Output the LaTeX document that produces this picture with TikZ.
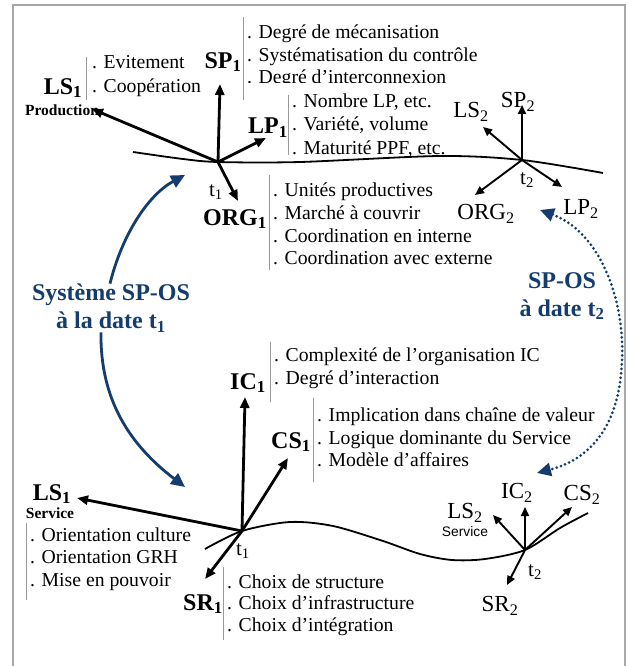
\documentclass[tikz,border=0pt]{standalone}
\usepackage{fontspec}
\setmainfont{Liberation Serif}
\newfontfamily\sansf{Liberation Sans}
\usetikzlibrary{arrows.meta}
\definecolor{navy}{RGB}{20,60,110}
\begin{document}
\begin{tikzpicture}[x=1pt,y=-1pt,
 itm/.style={font=\fontsize{19.7}{22.5}\selectfont, anchor=base west, inner sep=0pt},
 blab/.style={font=\fontsize{24}{26}\selectfont\bfseries, inner sep=0pt},
 lab/.style={font=\fontsize{23}{25}\selectfont, inner sep=0pt},
 smallb/.style={font=\fontsize{15.5}{17}\selectfont\bfseries, inner sep=0pt},
 smalls/.style={font=\fontsize{13.8}{15}\selectfont\sansf, inner sep=0pt},
 tlab/.style={font=\fontsize{21}{23}\selectfont, inner sep=0pt},
 bar/.style={draw=gray!80, line width=0.8pt},
 axisA/.style={line width=2.8pt, -{Triangle[length=11pt,width=9pt]}},
 axisB/.style={line width=1.9pt, -{Triangle[length=9pt,width=8pt]}},
 tline/.style={line width=1.8pt},
 bluearr/.style={draw=navy, line width=2.8pt, -{Triangle[length=14pt,width=13pt]}},
 dotblue/.style={draw=navy, line width=3pt, dash pattern=on 0pt off 4.5pt, line cap=round,
   {Triangle[length=14pt,width=13pt]}-{Triangle[length=14pt,width=13pt]}},
 bluetxt/.style={text=navy, font=\fontsize{24}{28}\selectfont\bfseries, align=center, inner sep=0pt}
]
\path[fill=white] (0,0) rectangle (632,666);
\useasboundingbox (0,0) rectangle (632,666);
\draw[gray!70, line width=1.2pt] (13,666) -- (13,5) -- (625,5) -- (625,666);

% ---------- top system t1 ----------
\coordinate (O1) at (218,162);
\coordinate (sp1) at (220,84);
\coordinate (ls1) at (92,109);
\coordinate (lp1) at (266,138);
\coordinate (org1) at (238,201);
\coordinate (O2) at (522,160);
\draw[tline] plot[smooth] coordinates {(133,152) (183,159) (218,162) (300,162) (440,156) (522,160) (603,173)};

\node[blab] (LS1) at (63,88) {LS\textsubscript{1}};
\node[smallb] (Prod) at (62,110) {Production};
\draw[bar] (86,57) -- (86,100);
\node[itm] (ls1a) at (92,69) {. Evitement};
\node[itm] (ls1b) at (92,93) {. Coopération};

\node[blab] (SP1) at (223,62) {SP\textsubscript{1}};
\draw[bar] (243,17) -- (243,100);
\node[itm] (sp1a) at (247,39) {. Degré de mécanisation};
\node[itm] (sp1b) at (247,61.5) {. Systématisation du contrôle};
\begin{scope}
\clip (240,60) rectangle (632,83);
\node[itm] (sp1c) at (247,84) {. Degré d’interconnexion};
\end{scope}

\node[blab] (LP1) at (268,128) {LP\textsubscript{1}};
\draw[bar] (288,95) -- (288,155);
\node[itm] (lp1a) at (292,108) {. Nombre LP, etc.};
\node[itm] (lp1b) at (292,131) {. Variété, volume};
\node[itm] (lp1c) at (292,154) {. Maturité PPF, etc.};

\node[tlab] (t1a) at (216,192) {t\textsubscript{1}};
\node[blab] (ORG1) at (235,219) {ORG\textsubscript{1}};
\draw[bar] (269,175) -- (269,270);
\node[itm] (org1a) at (273,196) {. Unités productives};
\node[itm] (org1b) at (273,219) {. Marché à couvrir};
\node[itm] (org1c) at (273,242) {. Coordination en interne};
\node[itm] (org1d) at (273,264) {. Coordination avec externe};

\draw[axisA] (O1) -- (sp1);
\draw[axisA] (O1) -- (ls1);
\draw[axisA] (O1) -- (lp1);
\draw[axisA] (O1) -- (org1);

% ---------- top system t2 ----------
\coordinate (sp2) at (522,105);
\coordinate (ls2) at (483,127);
\coordinate (lp2) at (562,187);
\coordinate (org2) at (475,195);
\node[lab] (SP2) at (518,102) {SP\textsubscript{2}};
\node[lab] (LS2) at (471,112) {LS\textsubscript{2}};
\node[lab] (LP2) at (581,209) {LP\textsubscript{2}};
\node[lab] (ORG2) at (486,214) {ORG\textsubscript{2}};
\node[tlab] (t2a) at (527,180) {t\textsubscript{2}};
\draw[axisB] (O2) -- (sp2);
\draw[axisB] (O2) -- (ls2);
\draw[axisB] (O2) -- (lp2);
\draw[axisB] (O2) -- (org2);

% ---------- blue links ----------
\node[bluetxt] (sys1) at (111,308) {Système SP-OS\\à la date t\textsubscript{1}};
\coordinate (b1) at (185,175);
\coordinate (b2) at (185,487);
\draw[bluearr] ([xshift=-1pt]sys1.north) .. controls (122,235) and (148,195) .. (b1);
\draw[bluearr] ([xshift=-10pt]sys1.south) .. controls (100,400) and (130,445) .. (b2);

\node[bluetxt] (sys2) at (562,296) {SP-OS\\à date t\textsubscript{2}};
\coordinate (dA) at (540,210);
\coordinate (dB) at (537,473);
\draw[dotblue] (dA) .. controls (600,232) and (625,300) .. (622,360) .. controls (620,420) and (595,458) .. (dB);

% ---------- bottom system t1 ----------
\coordinate (O3) at (242,531);
\coordinate (ic1) at (245,397);
\coordinate (cs1) at (288,458);
\coordinate (ls3) at (77,498);
\coordinate (sr1) at (205,579);
\coordinate (O4) at (525,550);
\draw[tline] plot[smooth] coordinates {(205,549) (242,531) (290,522) (333,526) (383,541) (420,554) (452,560) (485,559) (525,550) (560,528) (588,513)};

\node[blab] (IC1) at (248,383) {IC\textsubscript{1}};
\draw[bar] (270,342) -- (270,402);
\node[itm] (ic1a) at (274,361) {. Complexité de l’organisation IC};
\node[itm] (ic1b) at (274,384) {. Degré d’interaction};

\node[blab] (CS1) at (291,442) {CS\textsubscript{1}};
\draw[bar] (313,398) -- (313,482);
\node[itm] (cs1a) at (317,421) {. Implication dans chaîne de valeur};
\node[itm] (cs1b) at (317,444) {. Logique dominante du Service};
\node[itm] (cs1c) at (317,466) {. Modèle d’affaires};

\node[blab] (LS3) at (52,494) {LS\textsubscript{1}};
\node[smallb] (Serv1) at (50,513) {Service};
\draw[bar] (26,523) -- (26,600);
\node[itm] (ls3a) at (30,541) {. Orientation culture};
\node[itm] (ls3b) at (30,563) {. Orientation GRH};
\node[itm] (ls3c) at (30,586) {. Mise en pouvoir};

\node[blab] (SR1) at (203,604) {SR\textsubscript{1}};
\draw[bar] (223,567) -- (223,640);
\node[itm] (sr1a) at (227,588) {. Choix de structure};
\node[itm] (sr1b) at (227,609) {. Choix d’infrastructure};
\node[itm] (sr1c) at (227,631) {. Choix d’intégration};

\node[tlab] (t1b) at (243,551) {t\textsubscript{1}};

\draw[axisA] (O3) -- (ic1);
\draw[axisA] (O3) -- (cs1);
\draw[axisA] (O3) -- (ls3);
\draw[axisA] (O3) -- (sr1);

% ---------- bottom system t2 ----------
\coordinate (ls4) at (493,515);
\coordinate (ic2) at (525,507);
\coordinate (cs2) at (572,507);
\coordinate (sr2) at (507,585);
\node[lab] (LS4) at (465,513) {LS\textsubscript{2}};
\node[smalls] (Serv2) at (465,532) {Service};
\node[lab] (IC2) at (517,493) {IC\textsubscript{2}};
\node[lab] (CS2) at (582,495) {CS\textsubscript{2}};
\node[tlab] (t2b) at (535,572) {t\textsubscript{2}};
\node[lab] (SR2) at (500,606) {SR\textsubscript{2}};
\draw[axisB] (O4) -- (ls4);
\draw[axisB] (O4) -- (ic2);
\draw[axisB] (O4) -- (cs2);
\draw[axisB] (O4) -- (sr2);
\end{tikzpicture}
\end{document}
